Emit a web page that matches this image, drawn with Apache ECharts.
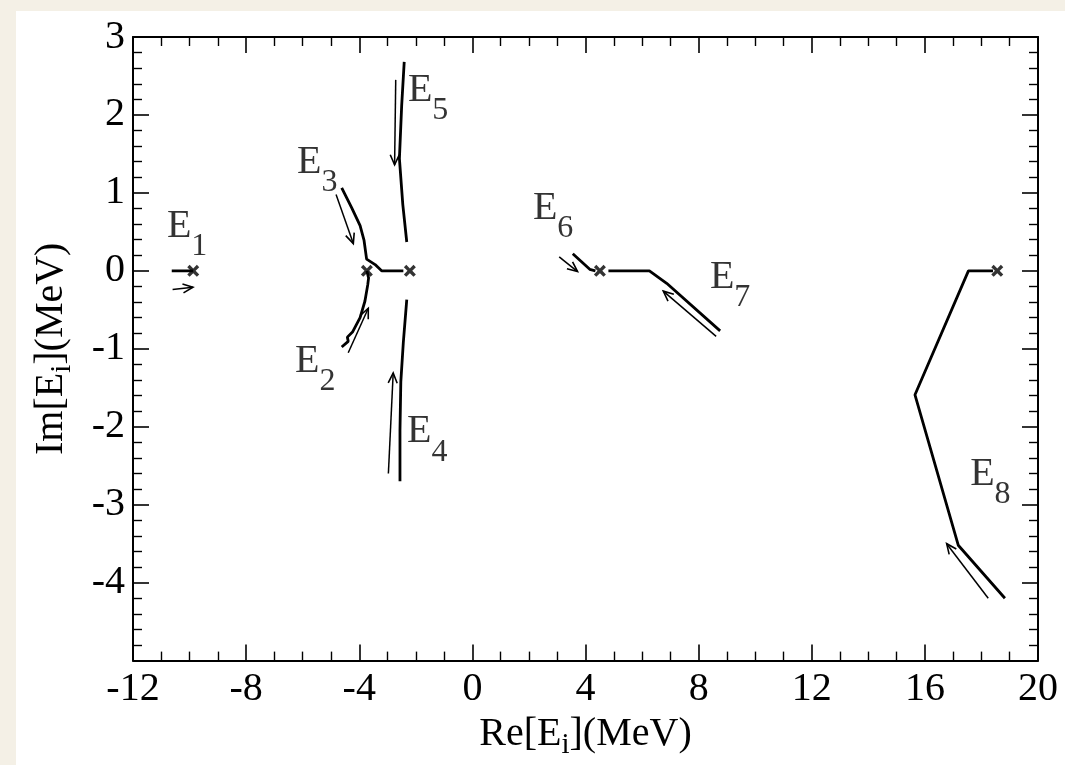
<!DOCTYPE html>
<html><head><meta charset="utf-8">
<script src="https://cdn.jsdelivr.net/npm/echarts@6/dist/echarts.min.js"></script>
<style>html,body{margin:0;padding:0;background:#f4f0e6}#c{width:1065px;height:765px}</style>
</head><body><div id="c"></div>
<script>
// ---- data ----
const xRange = [-12, 20];
const yRange = [-5, 3];
const E1 = [[-10.63, 0], [-9.87, 0]];
const E2 = [[-4.62, -0.977], [-4.39, -0.905], [-4.42, -0.85], [-4.23, -0.78], [-3.97, -0.60], [-3.80, -0.39], [-3.70, -0.18], [-3.67, -0.09], [-3.73, 0]];
const E3 = [[-4.62, 1.065], [-4.27, 0.81], [-3.97, 0.58], [-3.83, 0.39], [-3.74, 0.15], [-3.44, 0.08], [-3.21, 0], [-2.44, 0]];
const E4 = [[-2.32, -0.37], [-2.44, -0.91], [-2.53, -1.42], [-2.56, -2.05], [-2.56, -2.70]];
const E5 = [[-2.41, 2.68], [-2.50, 2.12], [-2.58, 1.44], [-2.46, 0.85], [-2.32, 0.37]];
const E6 = [[3.55, 0.22], [4.15, 0.02], [4.35, 0]];
const E7 = [[4.81, 0], [6.26, 0], [6.87, -0.16], [8.76, -0.77]];
const E8 = [[18.41, 0], [17.54, 0], [15.65, -1.59], [17.18, -3.52], [18.83, -4.20]];
const crosses = [[-9.87, 0], [-3.73, 0], [-2.21, 0], [4.51, 0], [18.56, 0]];
// arrows: [xTail, yTail, xHead, yHead]
const arrows = [
  [-10.60, -0.24, -9.88, -0.21],
  [-4.82, 0.98, -4.21, 0.35],
  [-4.39, -1.05, -3.68, -0.48],
  [-2.71, 2.45, -2.75, 1.36],
  [-2.97, -2.60, -2.80, -1.31],
  [3.07, 0.18, 3.72, -0.01],
  [8.62, -0.84, 6.75, -0.26],
  [18.24, -4.20, 16.77, -3.50]
];
const labelSubs = ['1', '2', '3', '4', '5', '6', '7', '8'];
const labelAnchors = [[-10.80, 0.572], [-6.27, -1.158], [-6.20, 1.393], [-2.31, -2.067], [-2.28, 2.314], [2.14, 0.799], [8.40, -0.085], [17.60, -2.610]];
const xTitle = ['Re[E', 'i', '](MeV)'];
const yTitle = ['Im[E', 'i', '](MeV)'];

// ---- chart ----
const FONT = '"Liberation Serif", "DejaVu Serif", serif';
const chart = echarts.init(document.getElementById('c'));
const curves = [E1, E2, E3, E4, E5, E6, E7, E8];
const titleRich = {
  t: { fontSize: 40, fontFamily: FONT, color: '#000' },
  s: { fontSize: 29, fontFamily: FONT, color: '#000', padding: [22, 0, 0, 0] }
};
const mkTitle = a => '{t|' + a[0] + '}{s|' + a[1] + '}{t|' + a[2] + '}';
const baseAxis = {
  axisLine: { show: true, onZero: false, lineStyle: { color: '#000', width: 2 } },
  axisTick: { show: true, inside: true, length: 16, lineStyle: { color: '#000', width: 1.6 } },
  minorTick: { show: true, length: 9, lineStyle: { color: '#000', width: 1.4 } },
  splitLine: { show: false },
  minorSplitLine: { show: false }
};
const xBase = Object.assign({}, baseAxis, { type: 'value', min: xRange[0], max: xRange[1], interval: 4,
  minorTick: Object.assign({}, baseAxis.minorTick, { splitNumber: 4 }) });
const yBase = Object.assign({}, baseAxis, { type: 'value', min: yRange[0], max: yRange[1], interval: 1,
  minorTick: Object.assign({}, baseAxis.minorTick, { splitNumber: 5 }) });

const series = curves.map(c => ({
  type: 'line', data: c, showSymbol: false, symbol: 'none', silent: true,
  lineStyle: { color: '#000', width: 2.8 }, z: 3, animation: false
}));
series.push({
  type: 'scatter', data: crosses, silent: true, animation: false, z: 4,
  symbol: 'path://M0,2 L2,0 L5,3 L8,0 L10,2 L7,5 L10,8 L8,10 L5,7 L2,10 L0,8 L3,5 Z',
  symbolSize: 12, itemStyle: { color: '#000' }
});
series.push({
  type: 'custom', data: arrows, silent: true, animation: false, z: 4,
  encode: { x: [0, 2], y: [1, 3] },
  renderItem: function (params, api) {
    const p1 = api.coord([api.value(0), api.value(1)]);
    const p2 = api.coord([api.value(2), api.value(3)]);
    const ang = Math.atan2(p2[1] - p1[1], p2[0] - p1[0]);
    const L = 11, a = 0.42;
    const h1 = [p2[0] - L * Math.cos(ang - a), p2[1] - L * Math.sin(ang - a)];
    const h2 = [p2[0] - L * Math.cos(ang + a), p2[1] - L * Math.sin(ang + a)];
    return { type: 'group', children: [
      { type: 'line', shape: { x1: p1[0], y1: p1[1], x2: p2[0], y2: p2[1] }, style: { stroke: '#000', lineWidth: 1.5 } },
      { type: 'polyline', shape: { points: [h1, p2, h2] }, style: { stroke: '#000', lineWidth: 1.6, fill: null } }
    ] };
  }
});
series.push({
  type: 'scatter', silent: true, animation: false, symbolSize: 0, z: 5,
  data: labelAnchors.map((p, i) => ({ name: labelSubs[i], value: p })),
  label: {
    show: true, position: 'right', distance: 0, color: '#000',
    formatter: p => '{e|E}{s|' + p.name + '}',
    rich: {
      e: { fontSize: 40, fontFamily: FONT, color: '#000' },
      s: { fontSize: 32, fontFamily: FONT, color: '#000', padding: [41, 0, 0, 0] }
    }
  }
});

chart.setOption({
  backgroundColor: '#f4f0e6',
  animation: false,
  graphic: [{ type: 'rect', left: 16, top: 11, z: -10, shape: { width: 1049, height: 754 }, style: { fill: '#ffffff' } }],
  grid: { left: 133, right: 27, top: 37, bottom: 95, containLabel: false },
  xAxis: [
    Object.assign({}, xBase, {
      position: 'bottom',
      axisLabel: { show: true, color: '#000', fontSize: 40, fontFamily: FONT, margin: 9 },
      name: mkTitle(xTitle), nameLocation: 'middle', nameGap: 47,
      nameTextStyle: { rich: titleRich }
    }),
    Object.assign({}, xBase, { position: 'top', axisLabel: { show: false } })
  ],
  yAxis: [
    Object.assign({}, yBase, {
      position: 'left',
      axisLabel: { show: true, color: '#000', fontSize: 40, fontFamily: FONT, margin: 8,
        formatter: v => (v === yRange[0] ? '' : String(v)) },
      name: mkTitle(yTitle), nameLocation: 'middle', nameGap: 56,
      nameTextStyle: { rich: titleRich }
    }),
    Object.assign({}, yBase, { position: 'right', axisLabel: { show: false } })
  ],
  series: series
});
</script></body></html>
